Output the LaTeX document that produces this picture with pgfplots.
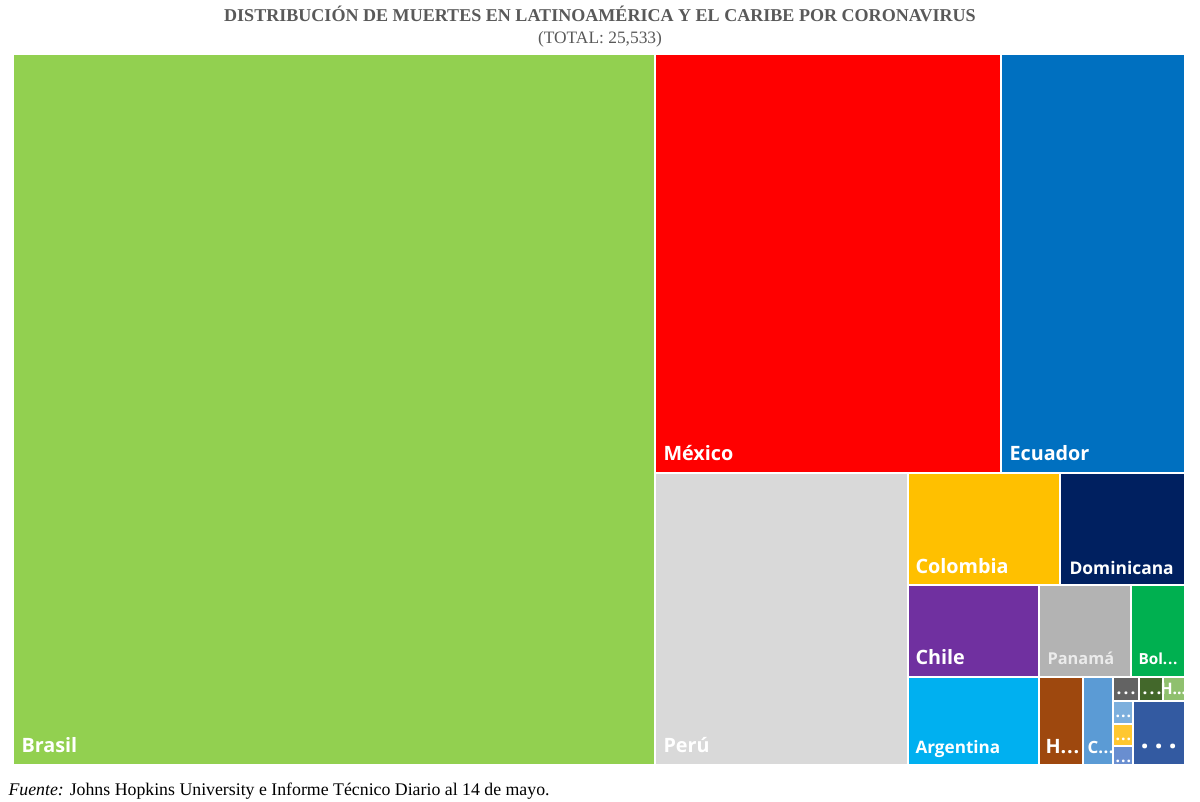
\documentclass[border=0pt]{standalone}
\usepackage{fontspec}
\setmainfont{Liberation Serif}
\newfontfamily\lab{Open Sans}
\usepackage{pgfplots}
\pgfplotsset{compat=1.18}

\definecolor{brasil}{HTML}{92D050}
\definecolor{mexico}{HTML}{FF0000}
\definecolor{ecuador}{HTML}{0070C0}
\definecolor{peru}{HTML}{D9D9D9}
\definecolor{colombia}{HTML}{FFC000}
\definecolor{dominicana}{HTML}{002060}
\definecolor{chile}{HTML}{7030A0}
\definecolor{panama}{HTML}{B3B3B3}
\definecolor{bolivia}{HTML}{00B050}
\definecolor{argentina}{HTML}{00B0F0}
\definecolor{honduras}{HTML}{9E480E}
\definecolor{cuba}{HTML}{5B9BD5}
\definecolor{gris}{HTML}{636363}
\definecolor{verdeosc}{HTML}{43682B}
\definecolor{verdecla}{HTML}{8FC06E}
\definecolor{celeste}{HTML}{7CAFDD}
\definecolor{amarillo}{HTML}{FFC730}
\definecolor{azulgris}{HTML}{698ED0}
\definecolor{azulosc}{HTML}{335AA1}
\definecolor{titulo}{HTML}{595959}

% one tile: colour, x0, y0, x1, y1 (pixel units, y downwards)
\newcommand{\tile}[5]{%
  \addplot[fill=#1, draw=white, line width=0.75pt] coordinates {(#2,#3) (#4,#3) (#4,#5) (#2,#5)} -- cycle;}
% label: x, y(baseline), size, colour, text
\newcommand{\tlabel}[5]{%
  \node[anchor=base west, inner sep=0pt, text=#4, font={\lab\bfseries\fontsize{#3}{#3}\selectfont}] at (axis cs:#1,#2) {#5};}
% spaced heavy dots
\newcommand{\pts}[1]{.\kern#1.\kern#1.}

\begin{document}
\begin{tikzpicture}
\begin{axis}[
    width=16cm, height=10.693cm, scale only axis,
    xmin=0, xmax=1200, ymin=0, ymax=802,
    y dir=reverse,
    hide axis, clip=false,
]
\addplot[fill=white, draw=none] coordinates {(0,0) (1200,0) (1200,802) (0,802)} -- cycle;

\tile{brasil}{13}{54}{655}{765}
\tile{mexico}{655}{54}{1001}{473}
\tile{ecuador}{1001}{54}{1185}{473}
\tile{peru}{655}{473}{908}{765}
\tile{colombia}{908}{473}{1060}{585}
\tile{dominicana}{1060}{473}{1185}{585}
\tile{chile}{908}{585}{1039}{677}
\tile{panama}{1039}{585}{1131}{677}
\tile{bolivia}{1131}{585}{1185}{677}
\tile{argentina}{908}{677}{1039}{765}
\tile{honduras}{1039}{677}{1083}{765}
\tile{cuba}{1083}{677}{1113}{765}
\tile{gris}{1113}{677}{1139}{701}
\tile{verdeosc}{1139}{677}{1163}{701}
\tile{verdecla}{1163}{677}{1185}{701}
\tile{celeste}{1113}{701}{1133}{724}
\tile{amarillo}{1113}{724}{1133}{746}
\tile{azulgris}{1113}{746}{1133}{765}
\tile{azulosc}{1133}{701}{1185}{765}

\tlabel{21}{753}{7.5}{white}{Brasil}
\tlabel{663}{461}{7.5}{white}{México}
\tlabel{1009}{461}{7.5}{white}{Ecuador}
\tlabel{663}{753}{7.5}{white}{Perú}
\tlabel{915}{574}{7.5}{white}{Colombia}
\tlabel{1069}{575}{6.6}{white}{Dominicana}
\tlabel{915}{665}{7.5}{white}{Chile}
\tlabel{1047}{665}{6.2}{white!92!black}{Panamá}
\tlabel{1138}{665}{5.8}{white}{Bol\pts{0.3pt}}
\tlabel{915}{754}{6.5}{white}{Argentina}
\tlabel{1045}{754}{7.5}{white}{H\pts{0.3pt}}
\tlabel{1087}{754}{6.4}{white}{C\pts{0.2pt}}
\tlabel{1116}{695}{6.5}{white}{\pts{0.8pt}}
\tlabel{1142}{695}{6.5}{white}{\pts{0.8pt}}
\tlabel{1160}{695}{6}{white}{H\pts{0pt}}
\tlabel{1115}{718}{6}{white}{\pts{0.4pt}}
\tlabel{1115}{741}{6}{white}{\pts{0.4pt}}
\tlabel{1115}{763}{6}{white}{\pts{0.4pt}}
\tlabel{1140}{749}{11}{white}{\pts{2.2pt}}

\node[anchor=base, inner sep=0pt, text=titulo, font={\bfseries\fontsize{6.85}{7}\selectfont}] at (axis cs:600,22) {DISTRIBUCIÓN DE MUERTES EN LATINOAMÉRICA Y EL CARIBE POR CORONAVIRUS};
\node[anchor=base, inner sep=0pt, text=titulo, font={\fontsize{6.6}{7}\selectfont}] at (axis cs:600,44) {(TOTAL: 25,533)};
\node[anchor=base west, inner sep=0pt, text=black, font={\fontsize{6.75}{7}\selectfont}] at (axis cs:8,796) {\textit{Fuente:} Johns Hopkins University e Informe Técnico Diario al 14 de mayo.};
\end{axis}
\end{tikzpicture}
\end{document}
